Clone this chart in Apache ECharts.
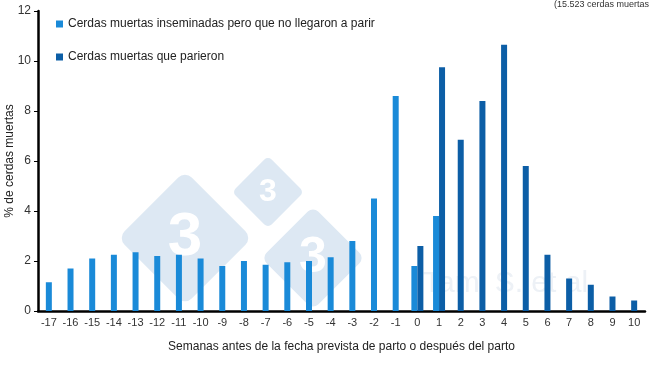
<!DOCTYPE html>
<html>
<head>
<meta charset="utf-8">
<script src="https://cdn.jsdelivr.net/npm/echarts@6/dist/echarts.min.js"></script>
<style>
html,body{margin:0;padding:0;background:#fff;}
#c{width:650px;height:366px;}
</style>
</head>
<body>
<div id="c"></div>
<script>
var categories = ['-17','-16','-15','-14','-13','-12','-11','-10','-9','-8','-7','-6','-5','-4','-3','-2','-1','0','1','2','3','4','5','6','7','8','9','10'];
// Cerdas muertas inseminadas pero que no llegaron a parir (-17 .. 1)
var lightValues = [1.15,1.7,2.1,2.25,2.35,2.2,2.25,2.1,1.8,2.0,1.85,1.95,2.0,2.15,2.8,4.5,8.6,1.8,3.8,null,null,null,null,null,null,null,null,null];
// Cerdas muertas que parieron (0 .. 10)
var darkValues = [null,null,null,null,null,null,null,null,null,null,null,null,null,null,null,null,null,2.6,9.75,6.85,8.4,10.65,5.8,2.25,1.3,1.05,0.58,0.42];
var yTicks = [0,2,4,6,8,10,12];
var nameLight = 'Cerdas muertas inseminadas pero que no llegaron a parir';
var nameDark = 'Cerdas muertas que parieron';
var colLight = '#1a8ad8';
var colDark = '#0c5ea6';

function part(vals, other, paired) {
  return vals.map(function (v, i) {
    if (v == null) return '-';
    var isPair = other[i] != null;
    return isPair === paired ? v : '-';
  });
}

var font = 'Liberation Sans, Arial, sans-serif';
var chart = echarts.init(document.getElementById('c'), null, {renderer: 'canvas'});

function diamond(cx, cy, side, fs) {
  return [
    {type: 'rect', x: cx, y: cy, rotation: Math.PI / 4, z: 0, silent: true,
     shape: {x: -side / 2, y: -side / 2, width: side, height: side, r: side * 0.1},
     style: {fill: '#dde8f3'}},
    {type: 'text', x: cx, y: cy, z: 0, silent: true,
     style: {text: '3', fill: '#ffffff', font: 'bold ' + fs + 'px ' + font, textAlign: 'center', textVerticalAlign: 'middle'}}
  ];
}

var graphics = [].concat(
  diamond(185, 238, 95, 62),
  diamond(268, 192, 51, 32),
  diamond(313, 258, 73, 50),
  [
    {type: 'text', x: 423, y: 284, z: 0, silent: true,
     style: {text: 'Tami S. et al.', fill: '#edf1f6', font: '30px ' + font, textVerticalAlign: 'middle'}},
    {type: 'text', x: 649, y: 5, z: 5, silent: true,
     style: {text: '(15.523 cerdas muertas', fill: '#333', font: '9px ' + font, textAlign: 'right', textVerticalAlign: 'middle'}}
  ]
);

chart.setOption({
  animation: false,
  backgroundColor: '#fff',
  textStyle: {fontFamily: font},
  graphic: graphics,
  legend: {
    orient: 'vertical', left: 51, top: 13, itemGap: 21,
    itemWidth: 7, itemHeight: 7, icon: 'rect',
    data: [nameLight, nameDark],
    textStyle: {fontSize: 12, color: '#222', fontFamily: font}
  },
  grid: {left: 38, right: 5, top: 11, bottom: 55, containLabel: false, outerBoundsMode: 'none'},
  xAxis: [
    {type: 'category', data: categories,
     axisLine: {lineStyle: {color: '#000', width: 2.5}},
     axisTick: {show: false},
     axisLabel: {color: '#333', fontSize: 11, margin: 6, interval: 0},
     name: 'Semanas antes de la fecha prevista de parto o después del parto',
     nameLocation: 'middle', nameGap: 30, nameMoveOverlap: false,
     nameTextStyle: {color: '#222', fontSize: 12}},
    {type: 'category', data: categories, show: false}
  ],
  yAxis: {
    type: 'value', min: 0, max: 12, interval: 2,
    axisLine: {show: true, lineStyle: {color: '#000', width: 2.5}},
    axisTick: {show: true, length: 4, lineStyle: {color: '#000'}},
    splitLine: {show: false},
    axisLabel: {color: '#333', fontSize: 12, margin: 7,
      formatter: function (v) { return yTicks.indexOf(v) >= 0 ? String(v) : ''; }},
    name: '% de cerdas muertas', nameLocation: 'middle', nameGap: 22, nameMoveOverlap: false,
    nameTextStyle: {color: '#222', fontSize: 12}
  },
  series: [
    {name: nameLight, type: 'bar', xAxisIndex: 0, barWidth: 6, barGap: '-100%',
     itemStyle: {color: colLight}, data: part(lightValues, darkValues, false), z: 2},
    {name: nameDark, type: 'bar', xAxisIndex: 0, barWidth: 6, barGap: '-100%',
     itemStyle: {color: colDark}, data: part(darkValues, lightValues, false), z: 2},
    {name: nameLight, type: 'bar', xAxisIndex: 1, barWidth: 6, barGap: '0%',
     itemStyle: {color: colLight}, data: part(lightValues, darkValues, true), z: 2},
    {name: nameDark, type: 'bar', xAxisIndex: 1, barWidth: 6, barGap: '0%',
     itemStyle: {color: colDark}, data: part(darkValues, lightValues, true), z: 2}
  ]
});
</script>
</body>
</html>
